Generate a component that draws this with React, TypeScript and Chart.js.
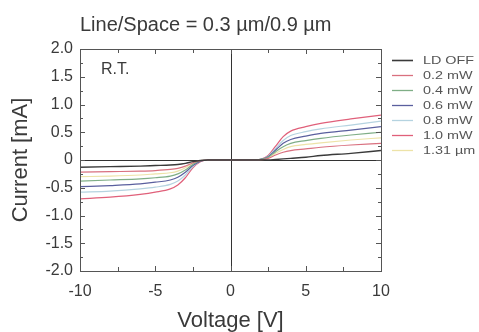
import React, { useEffect, useRef } from "react";
import { Chart, registerables } from "chart.js";

Chart.register(...registerables);

const voltage = [-10, -8, -6, -5, -4, -3.5, -3, -2.5, -2, -1.5, 0, 1.5, 2, 2.5, 3, 3.5, 4, 5, 6, 8, 10];

const seriesNames = ["LD OFF", "0.2 mW", "0.4 mW", "0.6 mW", "0.8 mW", "1.0 mW", "1.31 µm"];
const seriesColors = ["#3a3a3a", "#d9707f", "#7fae86", "#5a5f9e", "#b5d3e0", "#e0607a", "#ede3a8"];

const ldOff = [-0.13, -0.12, -0.11, -0.10, -0.09, -0.08, -0.06, -0.03, -0.01, 0, 0, 0, 0, 0, 0.01, 0.02, 0.03, 0.05, 0.08, 0.12, 0.17];
const p02 = [-0.22, -0.21, -0.20, -0.19, -0.17, -0.15, -0.11, -0.05, -0.01, 0, 0, 0, 0, 0.03, 0.09, 0.14, 0.17, 0.20, 0.23, 0.27, 0.30];
const p04 = [-0.38, -0.36, -0.34, -0.32, -0.29, -0.25, -0.18, -0.08, -0.01, 0, 0, 0, 0.01, 0.05, 0.15, 0.24, 0.30, 0.35, 0.39, 0.45, 0.50];
const p06 = [-0.48, -0.46, -0.43, -0.40, -0.36, -0.31, -0.22, -0.10, -0.02, 0, 0, 0, 0.01, 0.06, 0.18, 0.30, 0.37, 0.43, 0.48, 0.54, 0.60];
const p08 = [-0.58, -0.56, -0.52, -0.49, -0.44, -0.38, -0.27, -0.12, -0.02, 0, 0, 0, 0.01, 0.07, 0.21, 0.35, 0.44, 0.51, 0.56, 0.63, 0.70];
const p10 = [-0.70, -0.67, -0.62, -0.58, -0.52, -0.45, -0.32, -0.14, -0.03, 0, 0, 0, 0.01, 0.08, 0.25, 0.42, 0.52, 0.60, 0.66, 0.74, 0.81];
const w131 = [-0.30, -0.29, -0.27, -0.25, -0.23, -0.20, -0.14, -0.06, -0.01, 0, 0, 0, 0, 0.04, 0.12, 0.19, 0.24, 0.28, 0.31, 0.36, 0.40];

const seriesValues = [ldOff, p02, p04, p06, p08, p10, w131];

const xTickLabels: Record<string, string> = { "-10": "-10", "-5": "-5", "0": "0", "5": "5", "10": "10" };
const yTickLabels: Record<string, string> = {
  "2": "2.0", "1.5": "1.5", "1": "1.0", "0.5": "0.5", "0": "0",
  "-0.5": "-0.5", "-1": "-1.0", "-1.5": "-1.5", "-2": "-2.0",
};

const titleText = "Line/Space = 0.3 µm/0.9 µm";
const noteText = "R.T.";
const xTitle = "Voltage [V]";
const yTitle = "Current [mA]";

const FONT = "'Liberation Sans', Arial, sans-serif";
const TEXT = "#3a3a3a";

const decorPlugin = {
  id: "decor",
  beforeDatasetsDraw(chart: any) {
    const { ctx, chartArea: a, scales } = chart;
    const xs = scales.x;
    const ys = scales.y;
    ctx.save();
    ctx.strokeStyle = "#333";
    ctx.lineWidth = 1;
    const x0 = Math.round(xs.getPixelForValue(0)) + 0.5;
    const y0 = Math.round(ys.getPixelForValue(0)) + 0.5;
    ctx.beginPath();
    ctx.moveTo(x0, a.top);
    ctx.lineTo(x0, a.bottom);
    ctx.moveTo(a.left, y0);
    ctx.lineTo(a.right, y0);
    ctx.stroke();
    ctx.restore();
  },
  afterDraw(chart: any) {
    const { ctx, chartArea: a, scales } = chart;
    const xs = scales.x;
    const ys = scales.y;
    ctx.save();
    ctx.strokeStyle = "#555";
    ctx.lineWidth = 1;
    ctx.strokeRect(Math.round(a.left) + 0.5, Math.round(a.top) + 0.5, Math.round(a.right - a.left), Math.round(a.bottom - a.top));
    ctx.beginPath();
    for (let v = -10; v <= 10.001; v += 2.5) {
      const px = Math.round(xs.getPixelForValue(v)) + 0.5;
      const len = Math.abs(v % 5) < 0.01 ? 5 : 4;
      ctx.moveTo(px, a.bottom);
      ctx.lineTo(px, a.bottom - len);
      ctx.moveTo(px, a.top);
      ctx.lineTo(px, a.top + len);
    }
    for (let v = -2; v <= 2.001; v += 0.25) {
      const py = Math.round(ys.getPixelForValue(v)) + 0.5;
      const len = Math.abs((v * 2) % 1) < 0.01 ? 5 : 3;
      ctx.moveTo(a.left, py);
      ctx.lineTo(a.left + len, py);
      ctx.moveTo(a.right, py);
      ctx.lineTo(a.right - len, py);
    }
    ctx.stroke();

    ctx.fillStyle = TEXT;
    ctx.textBaseline = "middle";
    ctx.textAlign = "left";
    ctx.font = `20px ${FONT}`;
    ctx.fillText(titleText, a.left, 25);

    ctx.font = `16px ${FONT}`;
    ctx.fillText(noteText, a.left + 21, 70);

    const rowTop = 60;
    const rowStep = 15;
    chart.data.datasets.forEach((ds: any, i: number) => {
      const y = rowTop + i * rowStep;
      ctx.strokeStyle = ds.borderColor;
      ctx.lineWidth = i === 0 ? 1.6 : 1.3;
      ctx.beginPath();
      ctx.moveTo(a.right + 11, y + 0.5);
      ctx.lineTo(a.right + 32, y + 0.5);
      ctx.stroke();
      ctx.save();
      ctx.translate(a.right + 42, y);
      ctx.scale(1.25, 1);
      ctx.fillStyle = "#555";
      ctx.font = `11.5px ${FONT}`;
      ctx.fillText(ds.label, 0, 0.5);
      ctx.restore();
    });
    ctx.restore();
  },
};

export default function App() {
  const ref = useRef<HTMLCanvasElement | null>(null);

  useEffect(() => {
    if (!ref.current) return;
    const datasets = seriesNames.map((name, i) => ({
      label: name,
      data: voltage.map((v, j) => ({ x: v, y: seriesValues[i][j] })),
      borderColor: seriesColors[i],
      backgroundColor: seriesColors[i],
      borderWidth: i === 0 ? 1.4 : 1.2,
      pointRadius: 0,
      cubicInterpolationMode: "monotone" as const,
      fill: false,
    }));
    const chart = new Chart(ref.current, {
      type: "line",
      data: { datasets },
      plugins: [decorPlugin],
      options: {
        animation: false,
        responsive: false,
        maintainAspectRatio: false,
        layout: { padding: { top: 49, right: 98, left: 0, bottom: 0 } },
        plugins: {
          legend: { display: false },
          title: { display: false },
          tooltip: { enabled: false },
        },
        scales: {
          x: {
            type: "linear",
            min: -10,
            max: 10,
            afterFit: (s: any) => { s.height = 61; },
            grid: { display: false, drawTicks: false },
            border: { display: false },
            ticks: {
              stepSize: 5,
              padding: 11,
              color: TEXT,
              font: { family: FONT, size: 16 },
              maxRotation: 0,
              callback: (v: any) => xTickLabels[String(v)] ?? "",
            },
            title: {
              display: true,
              text: xTitle,
              color: TEXT,
              font: { family: FONT, size: 22, lineHeight: 1 },
              padding: { top: 0, bottom: 0 },
            },
          },
          y: {
            type: "linear",
            min: -2,
            max: 2,
            afterFit: (s: any) => { s.width = 80; },
            grid: { display: false, drawTicks: false },
            border: { display: false },
            ticks: {
              stepSize: 0.5,
              padding: 7,
              color: TEXT,
              font: { family: FONT, size: 16 },
              callback: (v: any) => yTickLabels[String(v)] ?? "",
            },
            title: {
              display: true,
              text: yTitle,
              color: TEXT,
              font: { family: FONT, size: 22, lineHeight: 1 },
              padding: { top: 10, bottom: 0 },
            },
          },
        },
      },
    });
    return () => chart.destroy();
  }, []);

  return (
    <div style={{ position: "absolute", left: 0, top: 0, width: 479, height: 332, background: "#fff" }}>
      <canvas ref={ref} width={479} height={332} style={{ display: "block", width: 479, height: 332 }} />
    </div>
  );
}
